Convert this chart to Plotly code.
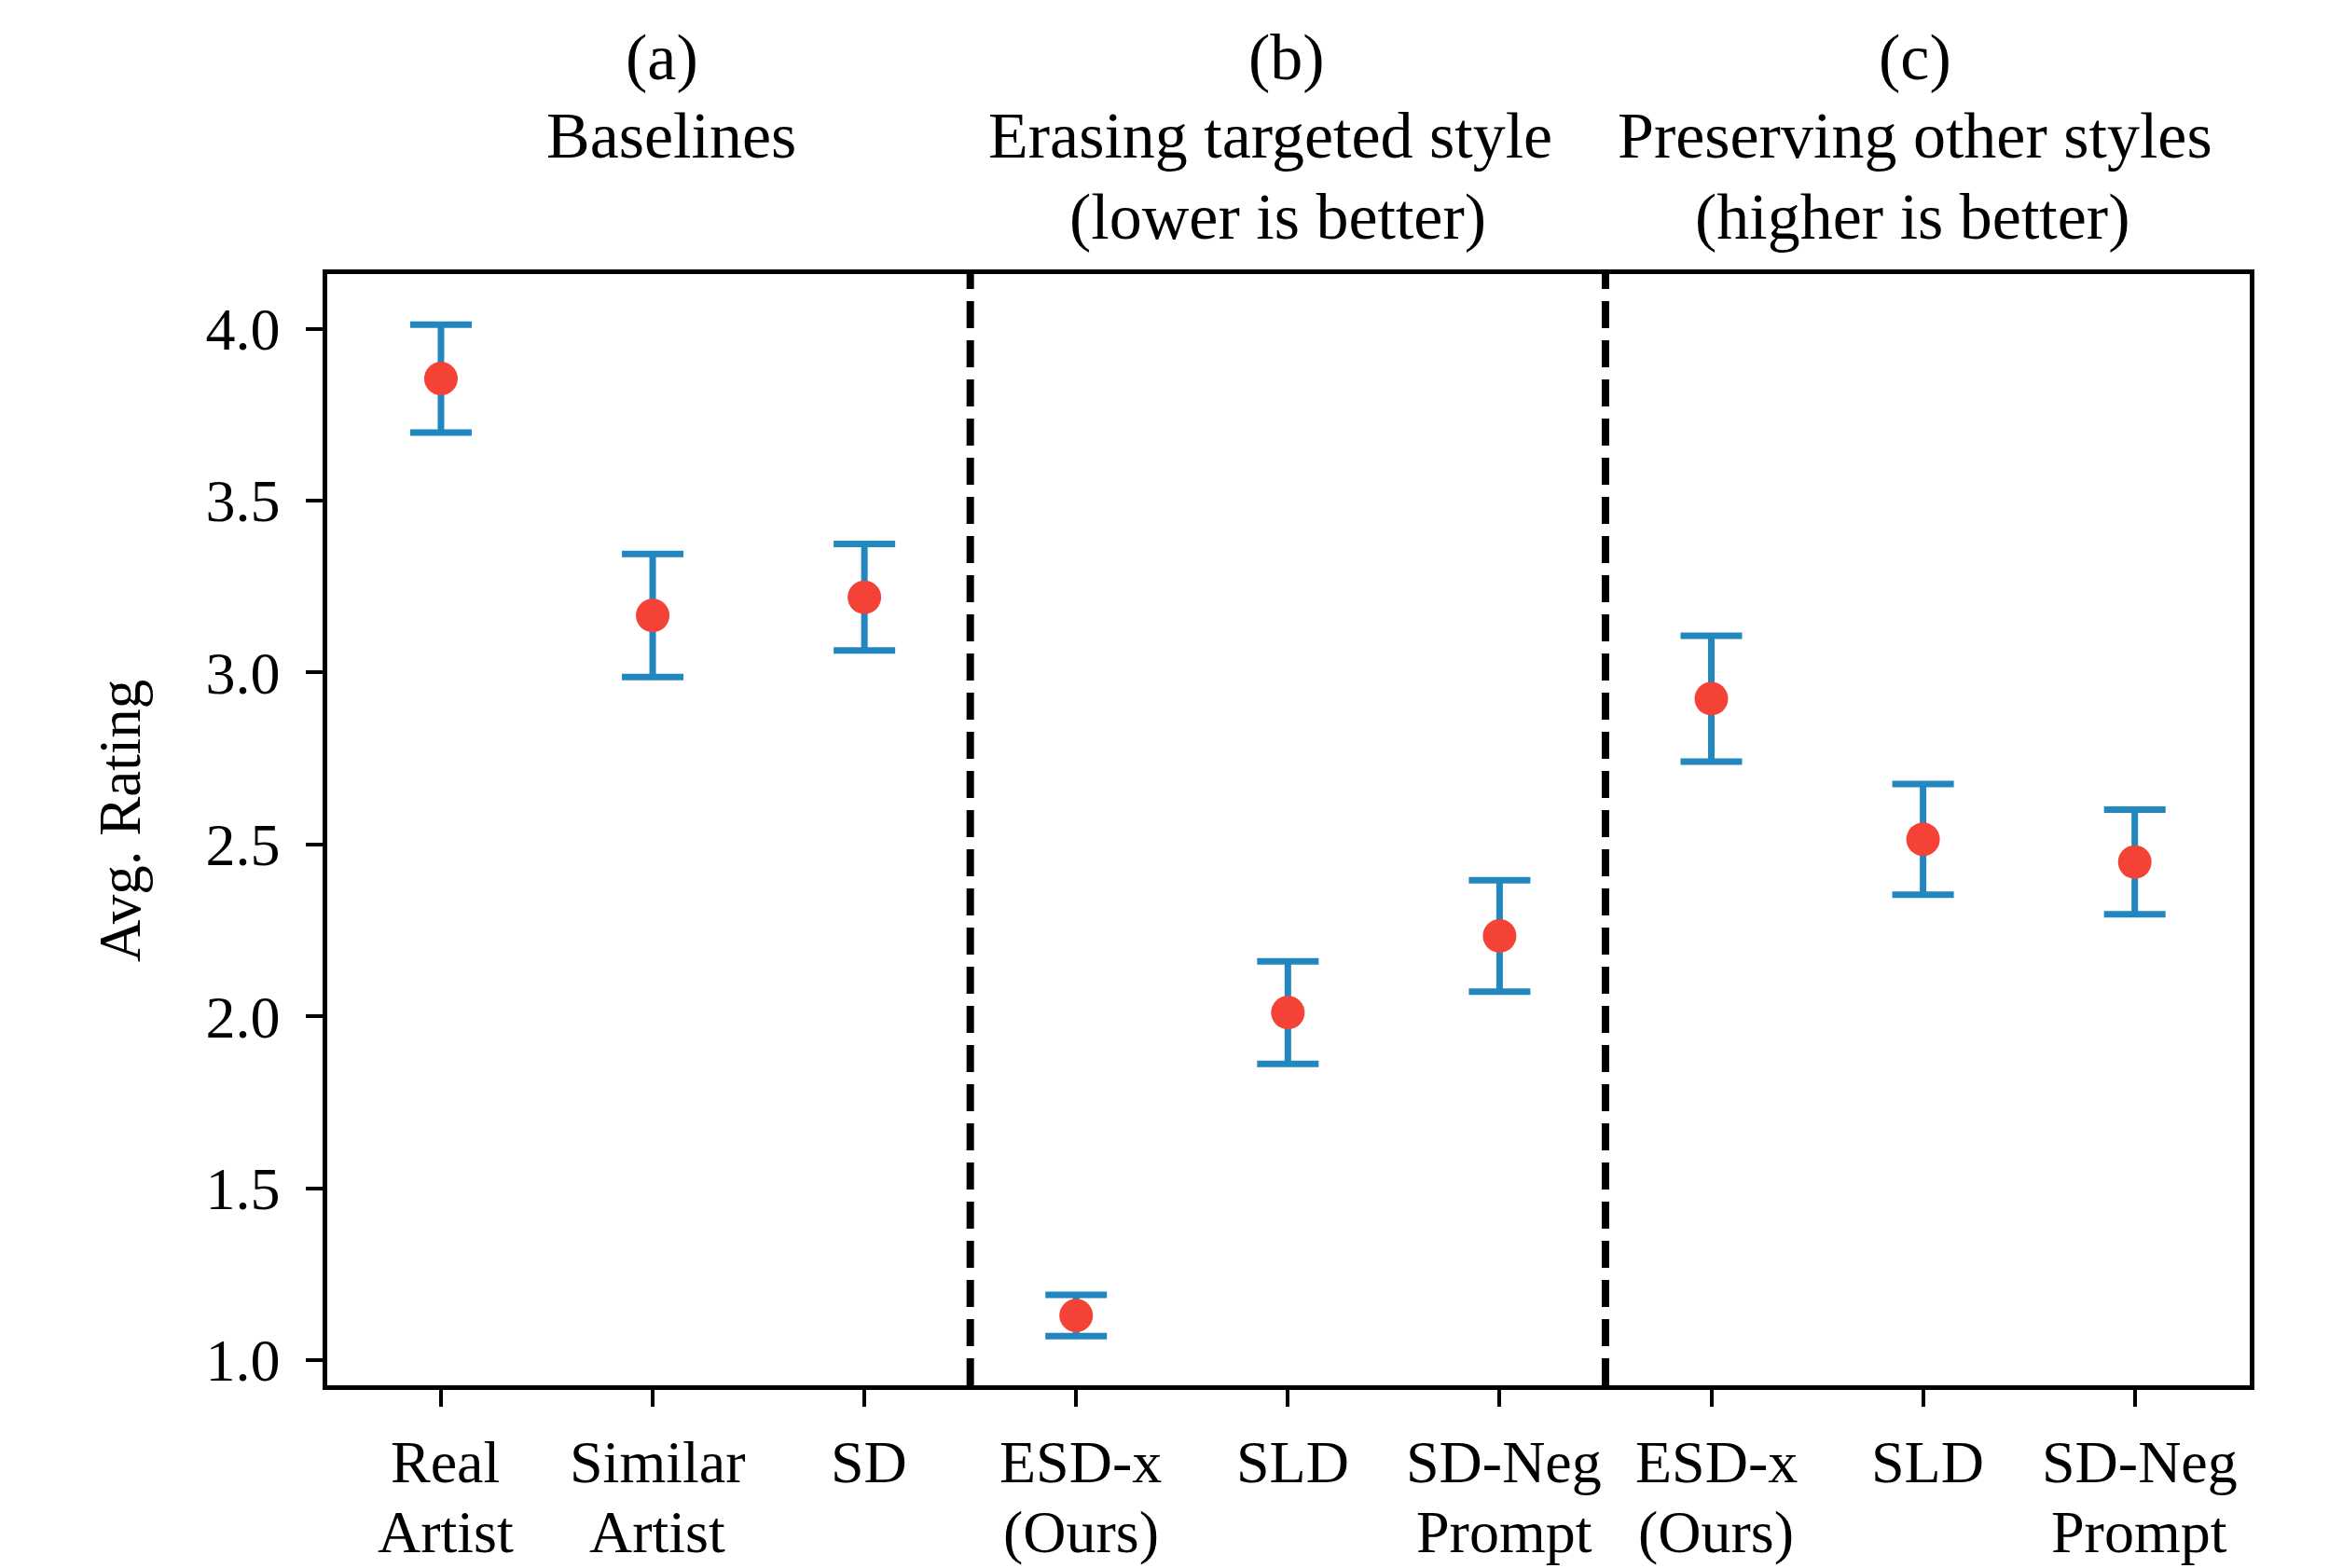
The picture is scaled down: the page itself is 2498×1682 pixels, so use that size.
import plotly.graph_objects as go

# ---- data ----
tick_line1 = ["Real", "Similar", "SD", "ESD-x", "SLD", "SD-Neg", "ESD-x", "SLD", "SD-Neg"]
tick_line2 = ["Artist", "Artist", "", "(Ours)", "", "Prompt", "(Ours)", "", "Prompt"]
means = [3.855, 3.166, 3.219, 1.130, 2.011, 2.234, 2.924, 2.515, 2.449]
errors = [0.157, 0.179, 0.155, 0.060, 0.149, 0.162, 0.183, 0.161, 0.152]
group_titles = [["(a)", "Baselines"],
                ["(b)", "Erasing targeted style", "(lower is better)"],
                ["(c)", "Preserving other styles", "(higher is better)"]]
dividers = [2.5, 5.5]
y_ticks = [1.0, 1.5, 2.0, 2.5, 3.0, 3.5, 4.0]

# ---- layout helpers (pixel positions) ----
title_px_x = [[710, 720], [1380, 1362, 1370], [2054, 2054, 2051]]
title_px_y = [62, 146, 232]

FONT = "Liberation Serif"
W, H = 2498, 1682
L, R, T, B = 351, 2413, 294, 1486  # plot area in px

def py(px):  # pixel y -> paper y
    return (B - px) / (B - T)

def pxx(px):
    return (px - L) / (R - L)

XMIN, XMAX = -0.537, 8.543
def data_to_px(x):
    return L + (x - XMIN) / (XMAX - XMIN) * (R - L)

xs = list(range(len(means)))

fig = go.Figure()
fig.add_trace(go.Scatter(
    x=xs, y=means, mode="markers",
    marker=dict(color="#f44336", size=36, line=dict(width=0)),
    error_y=dict(type="data", array=errors, visible=True,
                 color="#2287be", thickness=7, width=33),
    showlegend=False, hoverinfo="skip"))

for d in dividers:
    fig.add_shape(type="line", xref="x", yref="paper", x0=d, x1=d, y0=0, y1=1,
                  line=dict(color="black", width=8, dash="29px,13px"))

annotations = []
for i in xs:
    xp = pxx(data_to_px(i) + 5)
    annotations.append(dict(x=xp, y=py(1568), xref="paper", yref="paper", text=tick_line1[i],
                            showarrow=False, xanchor="center", yanchor="middle",
                            font=dict(family=FONT, size=64, color="black")))
    if tick_line2[i]:
        annotations.append(dict(x=xp, y=py(1643), xref="paper", yref="paper", text=tick_line2[i],
                                showarrow=False, xanchor="center", yanchor="middle",
                                font=dict(family=FONT, size=64, color="black")))

for g, lines in enumerate(group_titles):
    for k, t in enumerate(lines):
        annotations.append(dict(x=pxx(title_px_x[g][k]), y=py(title_px_y[k]), xref="paper", yref="paper",
                                text=t, showarrow=False, xanchor="center", yanchor="middle",
                                font=dict(family=FONT, size=70, color="black")))

annotations.append(dict(x=pxx(129), y=py(881), xref="paper", yref="paper", text="Avg. Rating",
                        textangle=-90, showarrow=False, xanchor="center", yanchor="middle",
                        font=dict(family=FONT, size=63, color="black")))

fig.update_layout(
    width=W, height=H,
    margin=dict(l=L, r=W - R, t=T, b=H - B, pad=0),
    paper_bgcolor="white", plot_bgcolor="white",
    font=dict(family=FONT, size=64, color="black"),
    annotations=annotations,
    xaxis=dict(range=[XMIN, XMAX], tickvals=xs, showticklabels=False,
               ticks="outside", ticklen=18, tickwidth=4, tickcolor="black",
               showline=True, linecolor="black", linewidth=4.5, mirror=True,
               showgrid=False, zeroline=False),
    yaxis=dict(range=[0.927, 4.159], tickvals=y_ticks,
               ticktext=[f"{v:.1f}" for v in y_ticks],
               ticks="outside", ticklen=18, tickwidth=4, tickcolor="black",
               ticklabelstandoff=15,
               tickfont=dict(family=FONT, size=64, color="black"),
               showline=True, linecolor="black", linewidth=4.5, mirror=True,
               showgrid=False, zeroline=False),
)

fig.write_html("out.html", config={"displayModeBar": False},
               post_script="document.body.style.margin='0';document.body.style.overflow='hidden';")
